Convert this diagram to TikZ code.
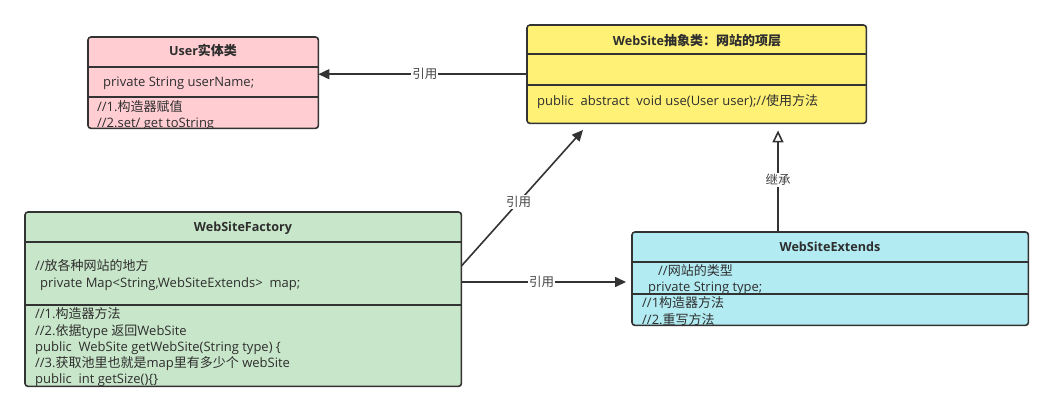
\documentclass[tikz,border=0pt]{standalone}
\usepackage{fontspec}
\setmainfont{Open Sans}
\newfontfamily\cjk{Noto Sans CJK SC}
\newcommand\zh[1]{{\cjk #1}}
\newcommand\zhb[1]{{\cjk\fontsize{13}{14}\selectfont #1}}
\usetikzlibrary{arrows.meta,calc}
\definecolor{ink}{HTML}{333333}
\definecolor{txt}{HTML}{2E2E2E}
\definecolor{lbl}{HTML}{444444}
\definecolor{userpink}{HTML}{FFCDD2}
\definecolor{siteyellow}{HTML}{FFF176}
\definecolor{facgreen}{HTML}{C8E6C9}
\definecolor{extcyan}{HTML}{B2EBF2}
\tikzset{
  boxfill/.style={inner sep=0pt, anchor=north west, rounded corners=3pt},
  boxline/.style={draw=ink, line width=1.6pt, rounded corners=3pt},
  divider/.style={draw=ink, line width=1.6pt},
  hdr/.style={font=\fontsize{12.6}{14}\selectfont\bfseries, text=txt, inner sep=0pt, text height=9pt, text depth=3pt},
  body/.style={font=\fontsize{13}{15}\selectfont, text=txt, inner sep=0pt, anchor=west, text height=9.5pt, text depth=3.5pt},
  conn/.style={draw=ink, line width=1.6pt},
  refarrow/.style={conn, -{Triangle[length=11pt,width=10pt]}},
  inharrow/.style={conn, -{Triangle[open,length=12pt,width=11pt,fill=white]}},
  edgelbl/.style={font=\fontsize{12.5}{14}\selectfont, text=lbl, fill=white, inner sep=1pt}
}
\begin{document}
\begin{tikzpicture}[x=1pt,y=-1pt]
\useasboundingbox[fill=white] (0,0) rectangle (1054,411);

% ---------- User ----------
\node[boxfill, fill=userpink, minimum width=230pt, minimum height=91pt] (user) at (88,37) {};
\begin{scope}
\clip (user.south west) rectangle (user.north east);
\node[hdr] (userh) at (203,53) {User\zhb{实体类}};
\node[body] (usera) at (103,84) {private String userName;};
\node[body] (userm1) at (97,108.5) {//1.\zh{构造器赋值}};
\node[body] (userm2) at (97,124.5) {//2.set/ get toString};
\end{scope}
\draw[divider] (user.west |- 0,67) -- (user.east |- 0,67);
\draw[divider] (user.west |- 0,97) -- (user.east |- 0,97);
\draw[boxline] (user.south west) rectangle (user.north east);

% ---------- WebSite ----------
\node[boxfill, fill=siteyellow, minimum width=339pt, minimum height=98pt] (site) at (527,25) {};
\node[hdr] (siteh) at (697,42.5) {WebSite\zhb{抽象类：网站的项层}};
\node[body] (sitem) at (537,103) {public\ \ abstract\ \ void use(User user);//\zh{使用方法}};
\draw[divider] (site.west |- 0,54) -- (site.east |- 0,54);
\draw[divider] (site.west |- 0,85) -- (site.east |- 0,85);
\draw[boxline] (site.south west) rectangle (site.north east);

% ---------- WebSiteFactory ----------
\node[boxfill, fill=facgreen, minimum width=436pt, minimum height=174pt] (fac) at (25,212) {};
\begin{scope}
\clip (fac.south west) rectangle (fac.north east);
\node[hdr] (fach) at (243,228.5) {WebSiteFactory};
\node[body] (faca1) at (35,268) {//\zh{放各种网站的地方}};
\node[body] (faca2) at (40,285) {private Map<String,WebSiteExtends>\ \ map;};
\node[body] (facm1) at (35,316) {//1.\zh{构造器方法}};
\node[body] (facm2) at (35,332) {//2.\zh{依据}type \zh{返回}WebSite};
\node[body] (facm3) at (35,348) {public\ \ WebSite getWebSite(String type) \{};
\node[body] (facm4) at (35,364) {//3.\zh{获取池里也就是}map\zh{里有多少个} webSite};
\node[body] (facm5) at (35,380) {public\ \ int getSize()\{\}};
\end{scope}
\draw[divider] (fac.west |- 0,242) -- (fac.east |- 0,242);
\draw[divider] (fac.west |- 0,305) -- (fac.east |- 0,305);
\draw[boxline] (fac.south west) rectangle (fac.north east);

% ---------- WebSiteExtends ----------
\node[boxfill, fill=extcyan, minimum width=396pt, minimum height=93pt] (ext) at (632,232) {};
\begin{scope}
\clip (ext.south west) rectangle (ext.north east);
\node[hdr] (exth) at (830,248.5) {WebSiteExtends};
\node[body] (exta1) at (658,273) {//\zh{网站的类型}};
\node[body] (exta2) at (648,289) {private String type;};
\node[body] (extm1) at (642,305) {//1\zh{构造器方法}};
\node[body] (extm2) at (642,321) {//2.\zh{重写方法}};
\end{scope}
\draw[divider] (ext.west |- 0,262) -- (ext.east |- 0,262);
\draw[divider] (ext.west |- 0,294) -- (ext.east |- 0,294);
\draw[boxline] (ext.south west) rectangle (ext.north east);

% ---------- connectors ----------
\draw[refarrow] (site.west) -- (site.west -| user.east)
  node[pos=0.49, edgelbl] {\zh{引用}};
\coordinate (facA) at (fac.east |- 0,266);
\coordinate (facB) at (fac.east |- 0,282);
\coordinate (siteIn) at (583,130);
\draw[refarrow] (facA) -- (siteIn)
  node[pos=0.47, edgelbl] {\zh{引用}};
\draw[refarrow, shorten >=6pt] (facB) -- (facB -| ext.west)
  node[pos=0.47, edgelbl] {\zh{引用}};
\draw[inharrow, shorten >=7pt] (ext.north -| 778,0) -- (site.south -| 778,0)
  node[pos=0.48, edgelbl] {\zh{继承}};
\end{tikzpicture}
\end{document}
